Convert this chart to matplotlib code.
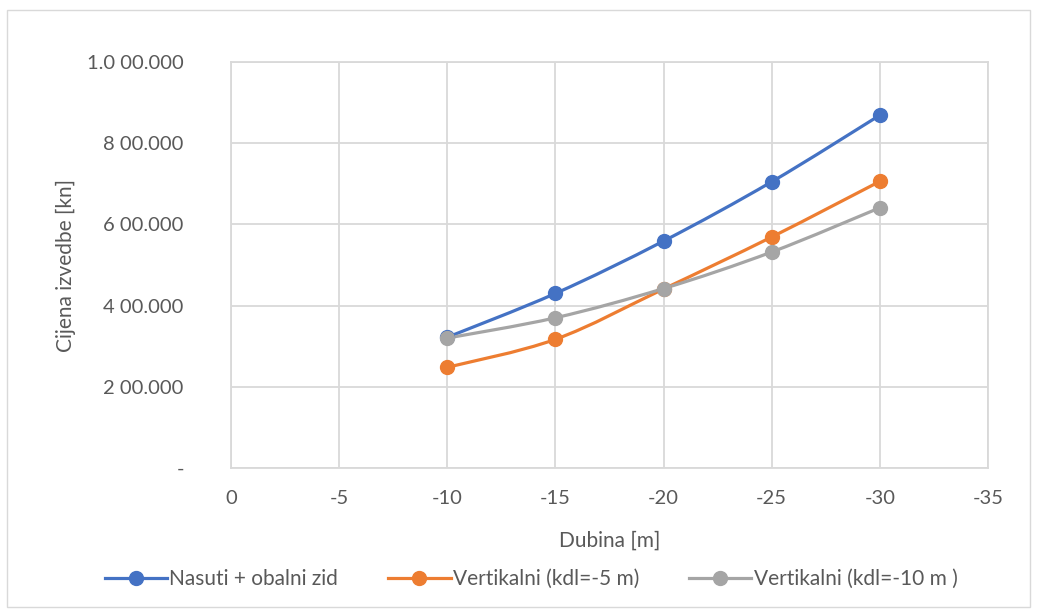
import matplotlib.pyplot as plt
import numpy as np
from matplotlib.path import Path
from matplotlib.patches import PathPatch, Rectangle

# data
dubina = [-10, -15, -20, -25, -30]
nasuti = [322000, 430000, 559000, 705000, 869000]
vert_5 = [248000, 317000, 441000, 569000, 706000]
vert_10 = [320000, 370000, 442000, 532000, 641000]
labels = ['Nasuti + obalni zid', 'Vertikalni (kdl=-5 m)', 'Vertikalni (kdl=-10 m )']
colors = ['#4472C4', '#ED7D31', '#A5A5A5']
x_ticks = [0, -5, -10, -15, -20, -25, -30, -35]
y_ticks = [0, 200000, 400000, 600000, 800000, 1000000]
y_labels = ['-', '2 00.000', '4 00.000', '6 00.000', '8 00.000', '1.0 00.000']

plt.rcParams['font.family'] = ['Lato', 'DejaVu Sans']
txt = '#595959'
grid = '#D9D9D9'


def smooth_path(xs, ys):
    # Catmull-Rom style bezier, like Excel's smoothed line
    pts = np.column_stack([xs, ys]).astype(float)
    verts = [pts[0]]
    codes = [Path.MOVETO]
    n = len(pts)
    for i in range(n - 1):
        p0 = pts[i - 1] if i > 0 else pts[i]
        p1 = pts[i]
        p2 = pts[i + 1]
        p3 = pts[i + 2] if i + 2 < n else pts[i + 1]
        c1 = p1 + (p2 - p0) / 6
        c2 = p2 - (p3 - p1) / 6
        verts += [c1, c2, p2]
        codes += [Path.CURVE4] * 3
    return Path(verts, codes)


fig = plt.figure(figsize=(10.39, 6.13), dpi=100)
ax = fig.add_axes([231 / 1039, 1 - 468 / 613, (988 - 231) / 1039, (468 - 62) / 613])

for ys, col, lab in zip([nasuti, vert_5, vert_10], colors, labels):
    ax.add_patch(PathPatch(smooth_path(dubina, ys), facecolor='none', edgecolor=col,
                           lw=2.3, zorder=3, capstyle='round'))
    ax.plot(dubina, ys, ls='none', marker='o', ms=10, color=col, zorder=4)
    ax.plot([], [], color=col, lw=2.3, marker='o', ms=10, label=lab)

ax.set_xlim(0, -35)
ax.set_ylim(0, 1000000)
ax.set_xticks(x_ticks)
ax.set_xticklabels([str(v) for v in x_ticks])
ax.set_yticks(y_ticks)
ax.set_yticklabels(y_labels)
ax.grid(True, color=grid, lw=1.3)
ax.set_axisbelow(True)
for s in ax.spines.values():
    s.set_color(grid)
    s.set_linewidth(1.3)
ax.tick_params(length=0, labelsize=14.5, colors=txt)
ax.tick_params(axis='y', pad=34)
ax.tick_params(axis='x', pad=16)
ax.set_xlabel('Dubina [m]', fontsize=15, color=txt, labelpad=17)
ax.set_ylabel('Cijena izvedbe [kn]', fontsize=15, color=txt, labelpad=8)

leg = fig.legend(loc='center', bbox_to_anchor=(531 / 1039, 1 - 579 / 613), ncol=3, frameon=False,
                 fontsize=15, handlelength=3.0, handletextpad=0.1, columnspacing=2.4)
for t in leg.get_texts():
    t.set_color(txt)

fig.patches.append(Rectangle((7 / 1039, 0.01), 1 - 16 / 1039, 1 - 10 / 613 - 0.01,
                             transform=fig.transFigure, fill=False, edgecolor=grid, lw=1))

fig.savefig('out.png', dpi=100)
